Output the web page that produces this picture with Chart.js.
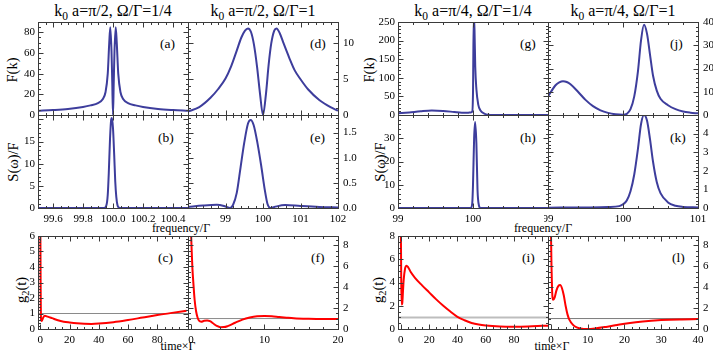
<!DOCTYPE html>
<html><head><meta charset="utf-8">
<script src="https://cdn.jsdelivr.net/npm/chart.js@4/dist/chart.umd.min.js"></script>
<style>
body{margin:0;background:#fff;width:713px;height:359px;overflow:hidden;position:relative;font-family:"Liberation Serif","DejaVu Serif",serif;color:#000;}
canvas{position:absolute;}
.t{position:absolute;white-space:nowrap;line-height:1;}
.title{font-size:16px;transform:translate(-50%,-50%);}
.pl{font-size:13.5px;}
.yl{font-size:14.5px;transform:translate(-50%,-50%) rotate(-90deg);}
.xl{font-size:12px;transform:translate(-50%,-50%);}
sub{font-size:72%;vertical-align:baseline;position:relative;top:0.32em;}
</style></head><body>
<div class="t title" style="left:113px;top:11px">k<sub>0</sub> a=π/2, Ω/Γ=1/4</div>
<div class="t title" style="left:263px;top:11px">k<sub>0</sub> a=π/2, Ω/Γ=1</div>
<div class="t title" style="left:473px;top:11px">k<sub>0</sub> a=π/4, Ω/Γ=1/4</div>
<div class="t title" style="left:623px;top:11px">k<sub>0</sub> a=π/4, Ω/Γ=1</div>
<div class="t yl" style="left:12px;top:70px">F(k)</div>
<div class="t yl" style="left:13px;top:162px">S(ω)/F</div>
<div class="t yl" style="left:21px;top:290px">g<sub>2</sub>(t)</div>
<div class="t yl" style="left:369px;top:70px">F(k)</div>
<div class="t yl" style="left:380px;top:162px">S(ω)/F</div>
<div class="t yl" style="left:378px;top:290px">g<sub>2</sub>(t)</div>
<div class="t xl" style="left:181px;top:228px">frequency/Γ</div>
<div class="t xl" style="left:543px;top:228px">frequency/Γ</div>
<div class="t xl" style="left:178px;top:346px">time×Γ</div>
<div class="t xl" style="left:552px;top:346px">time×Γ</div>
<div class="t pl" style="left:160px;top:37px">(a)</div>
<div class="t pl" style="left:310px;top:37px">(d)</div>
<div class="t pl" style="left:520px;top:37px">(g)</div>
<div class="t pl" style="left:670px;top:37px">(j)</div>
<div class="t pl" style="left:158px;top:131px">(b)</div>
<div class="t pl" style="left:310px;top:131px">(e)</div>
<div class="t pl" style="left:520px;top:131px">(h)</div>
<div class="t pl" style="left:670px;top:131px">(k)</div>
<div class="t pl" style="left:158px;top:251px">(c)</div>
<div class="t pl" style="left:311px;top:251px">(f)</div>
<div class="t pl" style="left:522px;top:251px">(i)</div>
<div class="t pl" style="left:672px;top:251px">(l)</div>
<script>
// ---------- data ----------
// (a) F(k), k0a=pi/2, Omega/Gamma=1/4
const kA = [99.5,99.6,99.7,99.8,99.85,99.9,99.93,99.95,99.965,99.975,99.982,99.99,99.995,100.0,100.005,100.01,100.018,100.025,100.035,100.05,100.07,100.1,100.15,100.2,100.3,100.4,100.5];
const FA = [4,4.8,5.9,7.8,9.3,11.5,15,22,40,70,85,62,32,0,32,62,85,70,40,22,15,11.5,9.3,7.8,5.9,4.8,4];
// (b) S(w)/F
const wB = [99.5,99.9,99.94,99.955,99.965,99.972,99.98,99.988,99.993,100.0,100.008,100.015,100.022,100.03,100.04,100.05,100.5];
const SB = [0,0,0,0.5,3,8,15.5,20,20.3,18,12,6,2.5,0.6,0.1,0,0];
// (c) g2(t)
const tC = [0,0.2,0.5,1,2,3,5,8,12,16,20,25,30,35,40,50,60,70,80,90,100];
const gC = [7,3,0.6,0.52,0.75,0.85,0.8,0.7,0.56,0.47,0.42,0.37,0.34,0.33,0.35,0.44,0.58,0.74,0.9,1.04,1.17];
// (d) F(k), k0a=pi/2, Omega/Gamma=1
const kD = [98,98.3,98.6,98.8,99,99.15,99.3,99.42,99.52,99.6,99.68,99.76,99.84,99.92,100,100.08,100.15,100.22,100.3,100.36,100.45,100.55,100.7,100.85,101,101.2,101.5,101.8,102];
const FD = [0.5,1.1,2.4,3.6,5.1,6.8,9,10.8,11.8,12.1,11.6,9.8,6.8,3,0,3,7,10,11.8,12.1,11.4,10,8,6.2,5,3.6,2.1,1.1,0.6];
// (e) S(w)/F
const wE = [98,98.4,98.77,99.0,99.12,99.2,99.3,99.4,99.5,99.6,99.67,99.75,99.85,99.95,100.05,100.12,100.2,100.3,100.59,101,101.5,102];
const SE = [0.02,0.05,0.065,0.03,0,0.06,0.3,0.8,1.3,1.68,1.75,1.65,1.3,0.85,0.35,0.08,0,0.02,0.06,0.04,0.02,0.01];
// (f) g2(t)
const tF = [0,0.1,0.2,0.35,0.5,0.7,0.9,1.1,1.4,1.8,2.2,2.6,3.0,3.5,4.0,4.5,5,6,7,8,9,10,11,12,13,14,16,18,20];
const gF = [9.5,7.5,5.8,4.2,2.8,1.7,1.1,0.8,0.7,0.78,0.82,0.75,0.55,0.3,0.17,0.18,0.28,0.6,0.9,1.1,1.22,1.25,1.23,1.15,1.08,1.02,0.97,0.95,0.95];
// (g) F(k), k0a=pi/4, Omega/Gamma=1/4
const kG = [99,99.15,99.3,99.45,99.6,99.75,99.85,99.93,99.97,99.99,100.0,100.01,100.02,100.03,100.045,100.07,100.1,100.15,100.2,100.3,100.6,101];
const FG = [4.5,7,10,12,11,8,6,6,7,9,60,265,230,130,70,28,12,4,1,0.2,0,0];
// (h) S(w)/F
const wH = [99,99.97,99.99,100.0,100.015,100.028,100.045,100.06,100.08,100.1,101];
const SH = [0,0,2,10,30,37,28,8,1,0,0];
// (i) g2(t)
const tI = [0,0.3,0.6,1,1.5,2,3,4,5,7,10,15,20,25,30,35,40,45,50,55,60,70,80,90,100,104];
const gI = [9,4,2.1,2.2,3.2,4.2,5.2,5.45,5.35,4.9,4.4,3.75,3.15,2.55,2.0,1.5,1.05,0.75,0.52,0.38,0.3,0.22,0.2,0.22,0.27,0.29];
// (j) F(k), k0a=pi/4, Omega/Gamma=1
const kJ = [99,99.05,99.1,99.15,99.2,99.25,99.3,99.4,99.5,99.6,99.7,99.8,99.9,100.0,100.05,100.1,100.15,100.2,100.24,100.28,100.32,100.36,100.4,100.45,100.5,100.6,100.7,100.8,100.9,101];
const FJ = [8,10.5,12.8,14,14.5,14.2,13.2,10,6.5,3.8,2,0.9,0.3,0.1,0.5,2.5,8,19,32,38.8,35,26,17,10.5,7,4.2,2.5,1.5,1.0,0.7];
// (k) S(w)/F
const wK = [99,99.5,99.8,99.95,100.0,100.05,100.1,100.15,100.2,100.24,100.28,100.32,100.36,100.4,100.45,100.5,100.6,100.7,100.8,101];
const SK = [0.02,0.03,0.05,0.1,0.2,0.4,0.9,1.8,3.2,4.5,5.0,4.7,3.7,2.5,1.4,0.8,0.3,0.12,0.06,0.03];
// (l) g2(t)
const tL = [0,0.15,0.3,0.6,1,1.5,2,2.5,3,3.5,4,4.5,5,6,7,8,10,12,15,18,21,25,30,35,40];
const gL = [9.5,6,3.8,2.8,3.0,3.7,4.1,4.2,3.9,3.2,2.2,1.4,0.9,0.4,0.15,0.05,0,0.05,0.2,0.38,0.55,0.72,0.85,0.92,0.95];

// tick labels
const xtAB = [99.6,99.8,100.0,100.2,100.4];
const xtDE = [99,100,101,102];
const xtGH = [99,100];
const xtJK = [99,100,101];
const xtC = [0,20,40,60,80];
const xtF = [0,10,20];
const xtI = [0,20,40,60,80];
const xtL = [0,10,20,30,40];
const ytA = [0,20,40,60,80];
const ytB = [0,5,10,15];
const ytC = [0,1,2,3,4,5,6];
const ytD = [0,5,10];
const ytE = [0,0.5,1,1.5];
const ytF = [0,2,4,6,8];
const ytG = [0,50,100,150,200,250];
const ytH = [0,10,20,30];
const ytI = [0,2,4,6,8];
const ytJ = [0,10,20,30,40];
const ytK = [0,1,2,3,4];
const ytL = [0,2,4,6,8];

// ---------- drawing ----------
const FONT = "'Liberation Serif','DejaVu Serif',serif";
const BLUE = '#3d3d9c', RED = '#ff0000';

function curve(xs, ys, color){
  return {data: xs.map((x,i)=>({x:x, y:ys[i]})), borderColor:color, borderWidth:2,
          pointRadius:0, cubicInterpolationMode:'monotone', fill:false};
}
function hline(x0, x1, yv, color, w){
  return {data:[{x:x0,y:yv},{x:x1,y:yv}], borderColor:color, borderWidth:w, pointRadius:0, fill:false};
}
function steps(min, max, st){
  const a=[]; const n0=Math.ceil(min/st-1e-6), n1=Math.floor(max/st+1e-6);
  for(let n=n0;n<=n1;n++) a.push(n*st);
  return a;
}
const framePlugin = {
  id:'frame',
  afterDraw(chart, args, o){
    const {ctx, chartArea:ca} = chart;
    const xs = chart.scales.x, ys = chart.scales.y;
    const L = Math.round(ca.left)+0.5, R = Math.round(ca.right)+0.5, T = Math.round(ca.top)+0.5, B = Math.round(ca.bottom)+0.5;
    ctx.save();
    ctx.strokeStyle = '#3a3a3a'; ctx.lineWidth = 1;
    ctx.strokeRect(L, T, R-L, B-T);
    ctx.beginPath();
    const doX = (st, len) => steps(xs.min, xs.max, st).forEach(v => {
      const p = Math.round(xs.getPixelForValue(v))+0.5;
      if (p <= L+1 || p >= R-1) return;
      ctx.moveTo(p, B); ctx.lineTo(p, B-len);
      ctx.moveTo(p, T); ctx.lineTo(p, T+len);
    });
    const doY = (st, len) => steps(ys.min, ys.max, st).forEach(v => {
      const p = Math.round(ys.getPixelForValue(v))+0.5;
      if (p <= T+1 || p >= B-1) return;
      ctx.moveTo(L, p); ctx.lineTo(L+len, p);
      ctx.moveTo(R, p); ctx.lineTo(R-len, p);
    });
    doX(o.xMaj, 5); doX(o.xMin, 2.5);
    doY(o.yMaj, 5); doY(o.yMin, 2.5);
    ctx.stroke();
    ctx.restore();
  }
};

function fmt(v, d){ return d ? Number(v).toFixed(d) : String(Math.round(v*1000)/1000); }

function makePanel(o){
  const yW = 34, side = 4, topM = 8, botM = o.xLab ? 24 : 8;
  const leftM = o.yPos === 'left' ? yW : side;
  const rightM = o.yPos === 'left' ? side : yW;
  const cv = document.createElement('canvas');
  cv.width = o.W + leftM + rightM; cv.height = o.H + topM + botM;
  cv.style.left = (o.L - leftM) + 'px'; cv.style.top = (o.T - topM) + 'px';
  cv.style.width = cv.width + 'px'; cv.style.height = cv.height + 'px';
  document.body.appendChild(cv);
  new Chart(cv, {
    type:'line',
    data:{datasets:o.sets},
    options:{
      responsive:false, animation:false, devicePixelRatio:1,
      layout:{padding:{left: o.yPos==='left'?0:side, right: o.yPos==='left'?side:0, top: topM, bottom: o.xLab?0:8}},
      plugins:{legend:{display:false}, tooltip:{enabled:false},
               frame:{xMaj:o.xMaj, xMin:o.xMinor, yMaj:o.yMaj, yMin:o.yMinor}},
      scales:{
        x:{type:'linear', min:o.xr[0], max:o.xr[1],
           grid:{display:false, drawTicks:false}, border:{display:false},
           ticks:{display:!!o.xLab, autoSkip:false, maxRotation:0, minRotation:0, padding:5,
                  font:{family:FONT, size:11}, color:'#000', callback:v=>fmt(v,o.xDec)},
           afterBuildTicks:s=>{ s.ticks = o.xt.map(v=>({value:v})); },
           afterFit:s=>{ s.height = o.xLab ? 24 : 0; s.paddingLeft=0; s.paddingRight=0; s.paddingTop=0; s.paddingBottom=0; }},
        y:{type:'linear', position:o.yPos, min:o.yr[0], max:o.yr[1],
           grid:{display:false, drawTicks:false}, border:{display:false},
           ticks:{autoSkip:false, padding:o.yPos==='left'?3:5,
                  font:{family:FONT, size:11}, color:'#000', callback:v=>fmt(v,o.yDec)},
           afterBuildTicks:s=>{ s.ticks = o.yt.map(v=>({value:v})); },
           afterFit:s=>{ s.width = yW; s.paddingLeft=0; s.paddingRight=0; s.paddingTop=0; s.paddingBottom=0; }}
      }
    },
    plugins:[framePlugin]
  });
}

const W = 150, H = 93;
const C1 = 38, C2 = 188, C3 = 398, C4 = 548;
const R1 = 22, R2 = 115, R3 = 236;

// left group
makePanel({L:C1,T:R1,W,H,yPos:'left',xLab:false,xr:[99.5,100.5],yr:[0,90],xt:xtAB,yt:ytA,xDec:1,
  xMaj:0.2,xMinor:0.05,yMaj:20,yMinor:5, sets:[curve(kA,FA,BLUE)]});
makePanel({L:C1,T:R2,W,H,yPos:'left',xLab:true,xr:[99.5,100.5],yr:[0,21],xt:xtAB,yt:ytB,xDec:1,
  xMaj:0.2,xMinor:0.05,yMaj:5,yMinor:1, sets:[curve(wB,SB,BLUE)]});
makePanel({L:C1,T:R3,W,H,yPos:'left',xLab:true,xr:[-1.6,101],yr:[0,6],xt:xtC,yt:ytC,
  xMaj:20,xMinor:5,yMaj:1,yMinor:0.2, sets:[curve(tC,gC,RED), hline(-1.6,101,1,'#8a8a8a',1)]});
makePanel({L:C2,T:R1,W,H,yPos:'right',xLab:false,xr:[98,102],yr:[0,13],xt:xtDE,yt:ytD,
  xMaj:1,xMinor:0.2,yMaj:5,yMinor:1, sets:[curve(kD,FD,BLUE)]});
makePanel({L:C2,T:R2,W,H,yPos:'right',xLab:true,xr:[98,102],yr:[0,1.85],xt:xtDE,yt:ytE,yDec:1,
  xMaj:1,xMinor:0.2,yMaj:0.5,yMinor:0.1, sets:[curve(wE,SE,BLUE)]});
makePanel({L:C2,T:R3,W,H,yPos:'right',xLab:true,xr:[-0.4,20],yr:[0,8.9],xt:xtF,yt:ytF,
  xMaj:10,xMinor:2,yMaj:2,yMinor:0.5, sets:[curve(tF,gF,RED), hline(-0.4,20,1,'#8a8a8a',1)]});
// right group
makePanel({L:C3,T:R1,W,H,yPos:'left',xLab:false,xr:[99,101],yr:[0,250],xt:xtGH,yt:ytG,
  xMaj:1,xMinor:0.2,yMaj:50,yMinor:10, sets:[curve(kG,FG,BLUE)]});
makePanel({L:C3,T:R2,W,H,yPos:'left',xLab:true,xr:[99,101],yr:[0,40],xt:xtGH,yt:ytH,
  xMaj:1,xMinor:0.2,yMaj:10,yMinor:2, sets:[curve(wH,SH,BLUE)]});
makePanel({L:C3,T:R3,W,H,yPos:'left',xLab:true,xr:[-2,104],yr:[0,8],xt:xtI,yt:ytI,
  xMaj:20,xMinor:5,yMaj:2,yMinor:0.5, sets:[curve(tI,gI,RED), hline(-2,104,1,'#bdbdbd',2)]});
makePanel({L:C4,T:R1,W,H,yPos:'right',xLab:false,xr:[99,101],yr:[0,40],xt:xtJK,yt:ytJ,
  xMaj:1,xMinor:0.2,yMaj:10,yMinor:2, sets:[curve(kJ,FJ,BLUE)]});
makePanel({L:C4,T:R2,W,H,yPos:'right',xLab:true,xr:[99,101],yr:[0,5],xt:xtJK,yt:ytK,
  xMaj:1,xMinor:0.2,yMaj:1,yMinor:0.2, sets:[curve(wK,SK,BLUE)]});
makePanel({L:C4,T:R3,W,H,yPos:'right',xLab:true,xr:[-0.8,40],yr:[0,8.9],xt:xtL,yt:ytL,
  xMaj:10,xMinor:2,yMaj:2,yMinor:0.5, sets:[curve(tL,gL,RED), hline(-0.8,40,1,'#7a7a7a',1)]});
</script>
</body></html>
